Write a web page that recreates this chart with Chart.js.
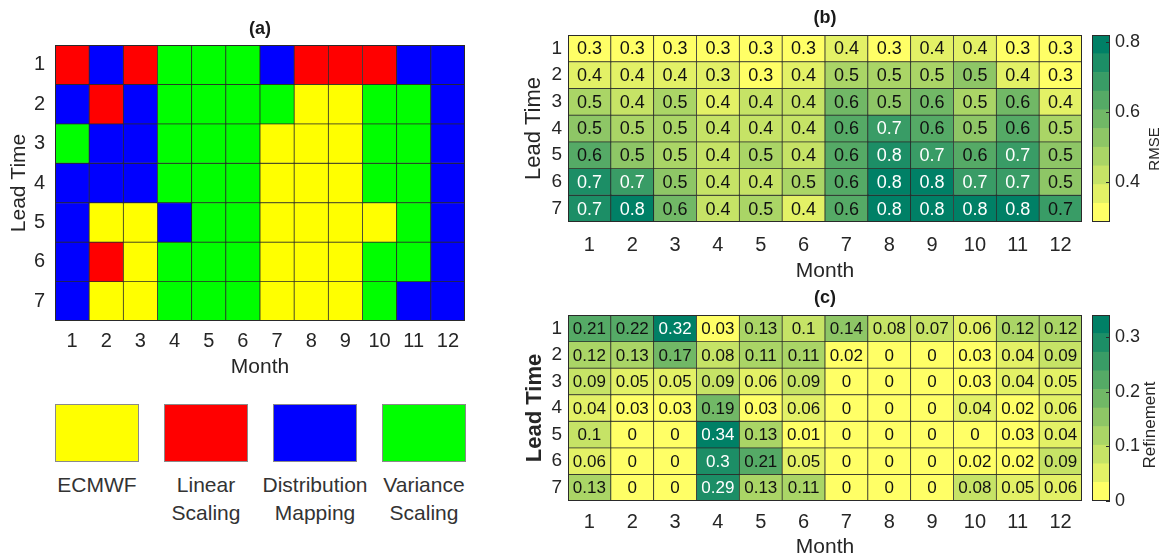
<!DOCTYPE html>
<html lang="en">
<head>
<meta charset="UTF-8">
<title>Bias correction by lead time and month</title>
<script src="https://cdn.jsdelivr.net/npm/chart.js"></script>
<style>
    body {
        margin: 0;
        background: #fff;
        font-family: 'Liberation Sans', Arial, sans-serif;
    }
    #wrap {
        position: relative;
        width: 1164px;
        height: 560px;
        overflow: hidden;
    }
    #wrap canvas, .box, .lbl {
        position: absolute;
    }
    .box {
        box-sizing: border-box;
        border: 1px solid #8a8a8a;
    }
    .lbl {
        width: 130px;
        text-align: center;
        font-size: 21px;
        line-height: 28px;
        color: #333;
    }
</style>
</head>
<body>
<div id="wrap">
    <canvas id="chartA" width="480" height="380" style="left:0;top:0"></canvas>
    <canvas id="chartB" width="590" height="285" style="left:500px;top:0"></canvas>
    <canvas id="barB" width="79" height="285" style="left:1085px;top:0"></canvas>
    <canvas id="chartC" width="590" height="275" style="left:500px;top:285px"></canvas>
    <canvas id="barC" width="79" height="275" style="left:1085px;top:285px"></canvas>
    <div id="legendA"></div>
</div>

<script>
    // categories
    const months = ['1', '2', '3', '4', '5', '6', '7', '8', '9', '10', '11', '12'];
    const leadTimes = [1, 2, 3, 4, 5, 6, 7];

    // (a) best method per cell: 0 ECMWF, 1 Linear Scaling, 2 Distribution Mapping, 3 Variance Scaling
    const methods = ['ECMWF', 'Linear Scaling', 'Distribution Mapping', 'Variance Scaling'];
    const methodColors = ['#ffff00', '#ff0000', '#0000ff', '#00ff00'];
    const bestMethod = [
        [1, 2, 1, 3, 3, 3, 2, 1, 1, 1, 2, 2],
        [2, 1, 2, 3, 3, 3, 3, 0, 0, 3, 3, 2],
        [3, 2, 2, 3, 3, 3, 0, 0, 0, 3, 3, 2],
        [2, 2, 2, 3, 3, 3, 0, 0, 0, 3, 3, 2],
        [2, 0, 0, 2, 3, 3, 0, 0, 0, 0, 3, 2],
        [2, 1, 0, 3, 3, 3, 0, 0, 0, 3, 3, 2],
        [2, 0, 0, 3, 3, 3, 0, 0, 0, 3, 2, 2]
    ];

    // (b) RMSE (shown rounded to one decimal)
    const rmse = [
        [0.29, 0.32, 0.30, 0.29, 0.30, 0.31, 0.36, 0.33, 0.37, 0.36, 0.29, 0.29],
        [0.36, 0.38, 0.38, 0.34, 0.29, 0.38, 0.46, 0.45, 0.47, 0.50, 0.38, 0.33],
        [0.47, 0.42, 0.47, 0.38, 0.40, 0.41, 0.60, 0.50, 0.57, 0.49, 0.58, 0.39],
        [0.52, 0.48, 0.48, 0.40, 0.41, 0.40, 0.61, 0.69, 0.61, 0.52, 0.62, 0.48],
        [0.62, 0.50, 0.48, 0.42, 0.47, 0.40, 0.62, 0.76, 0.70, 0.62, 0.70, 0.50],
        [0.72, 0.70, 0.50, 0.40, 0.42, 0.46, 0.62, 0.79, 0.77, 0.70, 0.71, 0.52],
        [0.72, 0.78, 0.58, 0.40, 0.49, 0.38, 0.62, 0.81, 0.80, 0.80, 0.78, 0.66]
    ];
    const rmseRange = [0.285, 0.82];
    const rmseTicks = [0.4, 0.6, 0.8];

    // (c) refinement
    const refinement = [
        [0.21, 0.22, 0.32, 0.03, 0.13, 0.1, 0.14, 0.08, 0.07, 0.06, 0.12, 0.12],
        [0.12, 0.13, 0.17, 0.08, 0.11, 0.11, 0.02, 0, 0, 0.03, 0.04, 0.09],
        [0.09, 0.05, 0.05, 0.09, 0.06, 0.09, 0, 0, 0, 0.03, 0.04, 0.05],
        [0.04, 0.03, 0.03, 0.19, 0.03, 0.06, 0, 0, 0, 0.04, 0.02, 0.06],
        [0.1, 0, 0, 0.34, 0.13, 0.01, 0, 0, 0, 0, 0.03, 0.04],
        [0.06, 0, 0, 0.3, 0.21, 0.05, 0, 0, 0, 0.02, 0.02, 0.09],
        [0.13, 0, 0, 0.29, 0.13, 0.11, 0, 0, 0, 0.08, 0.05, 0.06]
    ];
    const refinementRange = [0, 0.34];
    const refinementTicks = [0, 0.1, 0.2, 0.3];

    const TEXT = '#262626';
    const N_LEVELS = 10;
    Chart.defaults.font.family = "'Liberation Sans', Arial, sans-serif";
    Chart.defaults.color = TEXT;

    // flipped "summer" colormap, yellow for low values, green for high
    function levelColor(k) {
        const x = 1 - k / (N_LEVELS - 1);
        return `rgb(${Math.round(255 * x)},${Math.round(255 * (0.5 + x / 2))},102)`;
    }
    function valueColor(v, range) {
        let k = Math.floor((v - range[0]) / (range[1] - range[0]) * N_LEVELS);
        k = Math.max(0, Math.min(N_LEVELS - 1, k));
        return levelColor(k);
    }

    const outline = {
        id: 'outline',
        afterDraw(chart) {
            const a = chart.chartArea, ctx = chart.ctx;
            ctx.save();
            ctx.strokeStyle = '#2a2a2a';
            ctx.lineWidth = 1;
            ctx.strokeRect(Math.round(a.left) + 0.5, Math.round(a.top) + 0.5,
                Math.round(a.right - a.left) - 1, Math.round(a.bottom - a.top) - 1);
            ctx.restore();
        }
    };

    function cellText(values, fmt, whiteFrom, size) {
        return {
            id: 'cellText',
            afterDatasetsDraw(chart) {
                const ctx = chart.ctx;
                ctx.save();
                ctx.font = size + "px 'Liberation Sans', Arial, sans-serif";
                ctx.textAlign = 'center';
                ctx.textBaseline = 'middle';
                chart.data.datasets.forEach((ds, r) => {
                    chart.getDatasetMeta(r).data.forEach((el, c) => {
                        const v = values[r][c];
                        ctx.fillStyle = v >= whiteFrom ? '#ffffff' : '#111111';
                        ctx.fillText(fmt(v), el.x, (el.y + el.base) / 2 + 1);
                    });
                });
                ctx.restore();
            }
        };
    }

    function heatmap(id, cfg) {
        const datasets = leadTimes.map((lt, r) => ({
            label: 'Lead time ' + lt,
            data: months.map(() => [lt - 0.5, lt + 0.5]),
            backgroundColor: months.map((m, c) => cfg.color(r, c))
        }));
        const plugins = [outline];
        if (cfg.text) plugins.unshift(cfg.text);

        return new Chart(document.getElementById(id), {
            type: 'bar',
            data: { labels: months, datasets },
            options: {
                responsive: false,
                animation: false,
                events: [],
                layout: { padding: { left: 0, right: cfg.padRight, top: 0, bottom: 0 } },
                datasets: {
                    bar: {
                        grouped: false,
                        barPercentage: 1,
                        categoryPercentage: 1,
                        borderWidth: 0.75,
                        borderColor: '#2a2a2a',
                        borderSkipped: false
                    }
                },
                plugins: {
                    legend: { display: false },
                    tooltip: { enabled: false },
                    // not full size, so the title is centred over the cells
                    title: {
                        display: true,
                        fullSize: false,
                        text: cfg.title,
                        color: '#1a1a1a',
                        font: { size: 18, weight: 'bold' },
                        padding: cfg.titlePad
                    }
                },
                scales: {
                    x: {
                        grid: { display: false, drawTicks: false },
                        border: { display: false },
                        ticks: { font: { size: 20 }, padding: cfg.xTickPad, color: TEXT },
                        title: {
                            display: true,
                            text: 'Month',
                            font: { size: 21 },
                            color: TEXT,
                            padding: { top: 0, bottom: cfg.xTitlePad }
                        },
                        afterFit(s) { s.height = cfg.xHeight; }
                    },
                    y: {
                        type: 'linear',
                        reverse: true,
                        min: 0.5,
                        max: 7.5,
                        afterBuildTicks(s) { s.ticks = leadTimes.map(v => ({ value: v })); },
                        grid: { display: false, drawTicks: false },
                        border: { display: false },
                        ticks: { font: { size: cfg.yTickSize }, padding: cfg.yTickPad, color: TEXT },
                        title: {
                            display: true,
                            text: 'Lead Time',
                            font: { size: cfg.yTitleSize, weight: cfg.yTitleWeight },
                            color: TEXT,
                            padding: { top: cfg.yTitlePad, bottom: 0 }
                        },
                        afterFit(s) { s.width = cfg.yWidth; }
                    }
                }
            },
            plugins
        });
    }

    function colorbar(id, range, ticks, label, cfg) {
        const step = (range[1] - range[0]) / N_LEVELS;
        const datasets = [];
        for (let k = 0; k < N_LEVELS; k++) {
            datasets.push({
                data: [[range[0] + k * step, range[0] + (k + 1) * step]],
                backgroundColor: levelColor(k),
                borderWidth: 0
            });
        }
        const barDecor = {
            id: 'barDecor',
            afterDraw(chart) {
                const ctx = chart.ctx, a = chart.chartArea, y = chart.scales.y;
                ctx.save();
                // small inward tick marks on the right edge
                ctx.strokeStyle = '#2a2a2a';
                ctx.lineWidth = 1;
                ticks.forEach(t => {
                    const py = Math.round(y.getPixelForValue(t)) + 0.5;
                    ctx.beginPath();
                    ctx.moveTo(a.right - 4, py);
                    ctx.lineTo(a.right, py);
                    ctx.stroke();
                });
                ctx.translate(cfg.labelX, cfg.labelY);
                ctx.rotate(-Math.PI / 2);
                ctx.font = cfg.labelSize + "px 'Liberation Sans', Arial, sans-serif";
                ctx.fillStyle = TEXT;
                ctx.textAlign = 'center';
                ctx.textBaseline = 'middle';
                ctx.fillText(label, 0, 0);
                ctx.restore();
            }
        };
        return new Chart(document.getElementById(id), {
            type: 'bar',
            data: { labels: [''], datasets },
            options: {
                responsive: false,
                animation: false,
                events: [],
                layout: { padding: { left: 7, right: 0, top: cfg.top, bottom: cfg.bottom } },
                datasets: { bar: { grouped: false, barPercentage: 1, categoryPercentage: 1 } },
                plugins: { legend: { display: false }, tooltip: { enabled: false } },
                scales: {
                    x: { display: false },
                    y: {
                        type: 'linear',
                        position: 'right',
                        min: range[0],
                        max: range[1],
                        afterBuildTicks(s) { s.ticks = ticks.map(v => ({ value: v })); },
                        grid: { display: false, drawTicks: false },
                        border: { display: false },
                        ticks: { font: { size: 18 }, padding: 5, color: TEXT },
                        afterFit(s) { s.width = 54; }
                    }
                }
            },
            plugins: [outline, barDecor]
        });
    }

    heatmap('chartA', {
        title: '(a)',
        titlePad: { top: 18, bottom: 5.4 },
        padRight: 15,
        color: (r, c) => methodColors[bestMethod[r][c]],
        xTickPad: 8, xTitlePad: 0, xHeight: 59,
        yTickSize: 20, yTickPad: 10, yTitleSize: 21, yTitleWeight: 'normal', yTitlePad: 6.4, yWidth: 55
    });

    heatmap('chartB', {
        title: '(b)',
        titlePad: { top: 7, bottom: 6.4 },
        padRight: 8,
        color: (r, c) => valueColor(rmse[r][c], rmseRange),
        text: cellText(rmse, v => v.toFixed(1), 0.68, 18),
        xTickPad: 11, xTitlePad: 1.4, xHeight: 63,
        yTickSize: 19, yTickPad: 6, yTitleSize: 22, yTitleWeight: 'normal', yTitlePad: 20.8, yWidth: 68
    });

    heatmap('chartC', {
        title: '(c)',
        titlePad: { top: 2, bottom: 6.4 },
        padRight: 8,
        color: (r, c) => valueColor(refinement[r][c], refinementRange),
        text: cellText(refinement, v => String(v), 0.25, 17),
        xTickPad: 9, xTitlePad: 0, xHeight: 59,
        yTickSize: 19, yTickPad: 6, yTitleSize: 22, yTitleWeight: 'bold', yTitlePad: 21.8, yWidth: 68
    });

    colorbar('barB', rmseRange, rmseTicks, 'RMSE',
        { top: 35, bottom: 63, labelX: 70, labelY: 149, labelSize: 15 });
    colorbar('barC', refinementRange, refinementTicks, 'Refinement',
        { top: 30, bottom: 59, labelX: 65, labelY: 140, labelSize: 17 });

    // legend boxes under panel (a)
    const legendBoxes = [55, 164, 273, 382];
    const legendText = [['ECMWF'], ['Linear', 'Scaling'], ['Distribution', 'Mapping'], ['Variance', 'Scaling']];
    const legendEl = document.getElementById('legendA');
    methods.forEach((m, i) => {
        const box = document.createElement('div');
        box.className = 'box';
        box.title = m;
        box.style.cssText = `left:${legendBoxes[i]}px;top:404px;width:84px;height:58px;background:${methodColors[i]}`;
        legendEl.appendChild(box);
        const lbl = document.createElement('div');
        lbl.className = 'lbl';
        lbl.style.cssText = `left:${legendBoxes[i] + 42 - 65}px;top:471px`;
        lbl.innerHTML = legendText[i].join('<br>');
        legendEl.appendChild(lbl);
    });
</script>
</body>
</html>
